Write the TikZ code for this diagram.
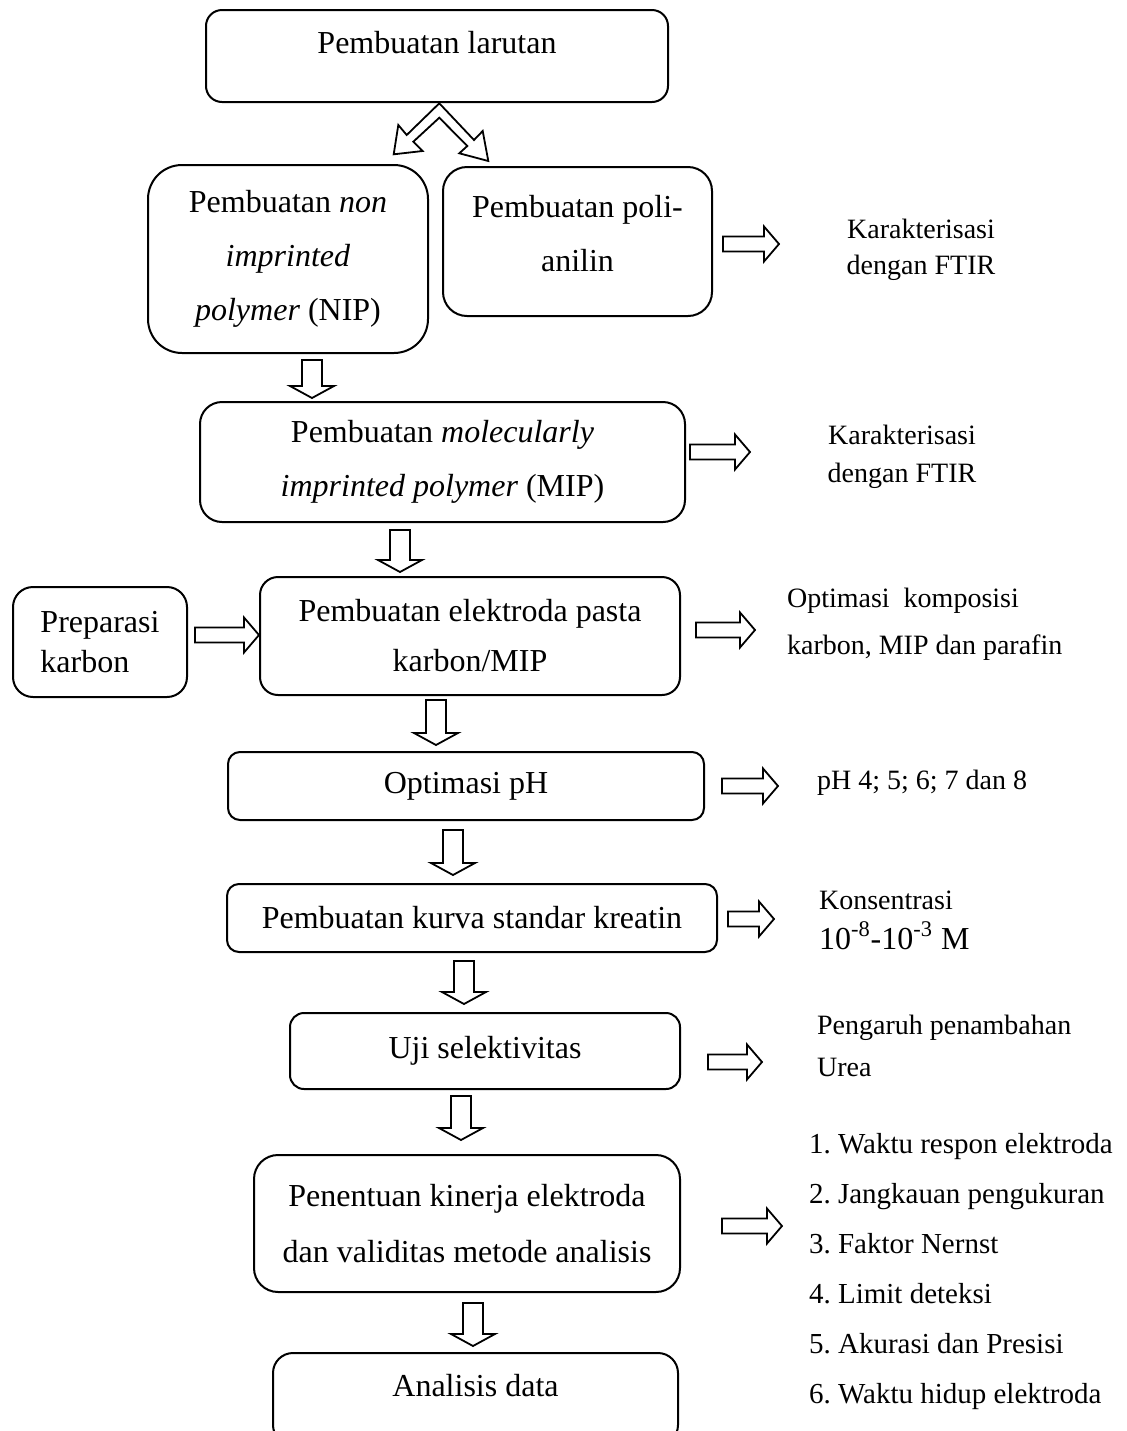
\documentclass[tikz,border=0pt]{standalone}
\usepackage{fontspec}
\setmainfont{Liberation Serif}
\usetikzlibrary{positioning}
\frenchspacing

\begin{document}
\begin{tikzpicture}
	[x = 0.5pt, y = -0.5pt,
	box/.style = {draw, line width = 1pt, align = center, font = \fontsize{16}{27}\selectfont},
	note/.style = {align = left, anchor = west, font = \fontsize{14}{18}\selectfont},
	hollow/.style = {draw, line width = 0.9pt, fill = white, line join = miter}]
	\useasboundingbox (0,0) rectangle (1126,1431);
	\clip (0,0) rectangle (1126,1431);
	% boxes
	\node [box, rounded corners = 8pt, minimum width = 231pt, minimum height = 46pt, text depth = 14pt] (larutan) at (437,56) {Pembuatan larutan};
	\node [box, rounded corners = 17pt, minimum width = 140pt, minimum height = 94pt] (nip) at (288,259) {Pembuatan \textit{non}\\ \textit{imprinted}\\ \textit{polymer} (NIP)};
	\node [box, rounded corners = 12pt, minimum width = 134.5pt, minimum height = 74.5pt, text depth = 8pt] (poli) at (577.5,241.5) {Pembuatan poli-\\ anilin};
	\node [box, rounded corners = 11pt, minimum width = 242.5pt, minimum height = 60pt] (mip) at (442.5,462) {Pembuatan \textit{molecularly}\\ \textit{imprinted polymer} (MIP)};
	\node [box, rounded corners = 10pt, minimum width = 87pt, minimum height = 55pt, align = left, font = \fontsize{16}{20}\selectfont] (prep) at (100,642) {Preparasi\\ karbon};
	\node [box, rounded corners = 9pt, minimum width = 210pt, minimum height = 59pt, font = \fontsize{16}{25}\selectfont] (pasta) at (470,636) {Pembuatan elektroda pasta\\ karbon/MIP};
	\node [box, rounded corners = 6pt, minimum width = 238pt, minimum height = 34pt] (ph) at (466,786) {Optimasi pH};
	\node [box, rounded corners = 6pt, minimum width = 245pt, minimum height = 34pt] (kurva) at (472,918) {Pembuatan kurva standar kreatin};
	\node [box, rounded corners = 7pt, minimum width = 195pt, minimum height = 38pt] (uji) at (485,1051) {Uji selektivitas};
	\node [box, rounded corners = 12pt, minimum width = 213pt, minimum height = 68.5pt, font = \fontsize{16}{28}\selectfont] (kinerja) at (467,1223.5) {Penentuan kinerja elektroda\\ dan validitas metode analisis};
	\node [box, rounded corners = 10pt, minimum width = 202.5pt, minimum height = 46pt, text depth = 14pt] (analisis) at (475.5,1399) {Analisis data};
	% notes on the right
	\node [note, align = center, anchor = center] (ftir1) at (921,250) {Karakterisasi\\ dengan FTIR};
	\node [note, align = center, anchor = center, font = \fontsize{14}{19}\selectfont] (ftir2) at (902,457) {Karakterisasi\\ dengan FTIR};
	\node [note, font = \fontsize{14}{23.5}\selectfont] (kompos) at (780,624.5) {Optimasi~ komposisi\\ karbon, MIP dan parafin};
	\node [note] (phval) at (810,783) {pH 4; 5; 6; 7 dan 8};
	\node [note, font = \fontsize{14}{20}\selectfont] (konsen) at (812,920) {Konsentrasi\\ {\fontsize{16}{20}\selectfont 10\textsuperscript{-8}-10\textsuperscript{-3} M}};
	\node [note, font = \fontsize{14}{21}\selectfont] (urea) at (810,1046) {Pengaruh penambahan\\ Urea};
	\node [note, font = \fontsize{14.5}{25}\selectfont] (daftar) at (802,1272) {1. Waktu respon elektroda\\ 2. Jangkauan pengukuran\\ 3. Faktor Nernst\\ 4. Limit deteksi\\ 5. Akurasi dan Presisi\\ 6. Waktu hidup elektroda};
	% split arrow under the first box
	\draw [hollow] (439.3,103.3) -- (474,140) -- (482.7,131) -- (488.3,161) -- (459.3,153.3) -- (467.3,146) -- (439.3,117.7) -- (413.3,141.7) -- (422.7,151) -- (393.7,154.3) -- (398.3,125) -- (406.7,135) -- cycle;
	% hollow arrows downwards
	\foreach \ax/\ay/\az in {312/360/398, 400/530/572, 436/700/745, 453/830/875, 464/961/1004, 461/1096/1140, 473/1303/1346}
		\draw [hollow] (\ax-10,\ay) -- (\ax+10,\ay) -- (\ax+10,\az-12) -- (\ax+22,\az-12) -- (\ax,\az) -- (\ax-22,\az-12) -- (\ax-10,\az-12) -- cycle;
	% hollow arrows to the right
	\foreach \ax/\ay/\az in {723/244/779, 690/452/750, 696/630/755, 195/635/259, 722/786/778, 728/919/774, 708/1062/762, 722/1226/782}
		\draw [hollow] (\ax,\ay-7.5) -- (\az-15,\ay-7.5) -- (\az-15,\ay-17.5) -- (\az,\ay) -- (\az-15,\ay+17.5) -- (\az-15,\ay+7.5) -- (\ax,\ay+7.5) -- cycle;
\end{tikzpicture}
\end{document}
